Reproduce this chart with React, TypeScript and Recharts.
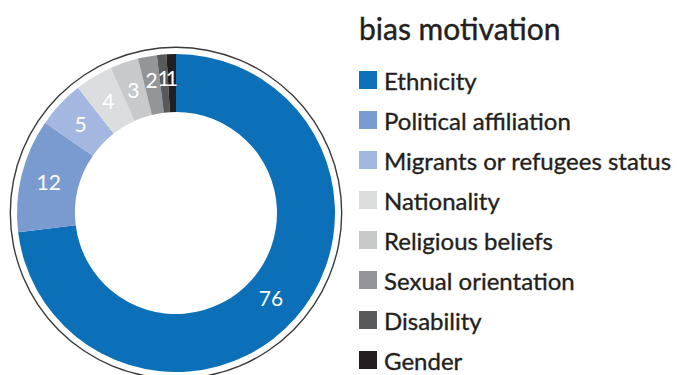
import React from "react";
import { PieChart, Pie, Cell, Legend } from "recharts";

const categories = [
  "Ethnicity",
  "Political affiliation",
  "Migrants or refugees status",
  "Nationality",
  "Religious beliefs",
  "Sexual orientation",
  "Disability",
  "Gender",
];
const values = [76, 12, 5, 4, 3, 2, 1, 1];
const colors = ["#0b70b8", "#7a9bd0", "#a3b7e0", "#dcdddf", "#c8c9cb", "#939598", "#58595b", "#231f20"];
const title = "bias motivation";
const ringData = [
  { name: "ringA", ring: 1 },
  { name: "ringB", ring: 1 },
];

const data = categories.map((c, i) => ({ name: c, value: values[i] }));

const FONT = "Lato, 'Open Sans', sans-serif";
const RAD = Math.PI / 180;

const renderLabel = (props: any) => {
  const { cx, cy, midAngle, value, index } = props;
  const r = index >= 5 ? 136 : index === 0 ? 127 : 131;
  const x = cx + r * Math.cos(-midAngle * RAD);
  const y = cy + r * Math.sin(-midAngle * RAD);
  return (
    <text
      x={x}
      y={y}
      fill="#ffffff"
      fontSize={21}
      fontFamily={FONT}
      textAnchor="middle"
      dominantBaseline="central"
    >
      {value}
    </text>
  );
};

const LegendContent = () => (
  <div style={{ fontFamily: FONT, color: "#231f20" }}>
    <div style={{ fontSize: 30, lineHeight: "40px", marginBottom: 12, WebkitTextStroke: "0.4px #231f20" }}>{title}</div>
    {categories.map((c, i) => (
      <div key={c} style={{ display: "flex", alignItems: "center", height: 40 }}>
        <span style={{ width: 18, height: 18, background: colors[i], display: "inline-block", marginRight: 7, flexShrink: 0 }} />
        <span style={{ fontSize: 24, WebkitTextStroke: "0.35px #231f20", whiteSpace: "nowrap" }}>{c}</span>
      </div>
    ))}
  </div>
);

export default function App() {
  return (
    <div style={{ position: "absolute", left: 0, top: 0, width: 680, height: 375, background: "#fff" }}>
      <PieChart width={680} height={375} margin={{ top: 0, right: 0, bottom: 0, left: 0 }}>
        <Pie
          data={data}
          dataKey="value"
          nameKey="name"
          cx={176}
          cy={213}
          innerRadius={101}
          outerRadius={159}
          startAngle={90}
          endAngle={-270}
          stroke="none"
          label={renderLabel}
          labelLine={false}
          isAnimationActive={false}
        >
          {data.map((d, i) => (
            <Cell key={d.name} fill={colors[i]} />
          ))}
        </Pie>
        <Pie
          data={ringData}
          dataKey="ring"
          nameKey="name"
          cx={176}
          cy={213}
          innerRadius={165}
          outerRadius={166.4}
          startAngle={90}
          endAngle={-270}
          fill="#3a3a3a"
          stroke="none"
          isAnimationActive={false}
          legendType="none"
        />
        <Legend
          layout="vertical"
          align="right"
          verticalAlign="top"
          content={<LegendContent />}
          wrapperStyle={{ left: 359, top: 8, width: 320 }}
        />
      </PieChart>
    </div>
  );
}
